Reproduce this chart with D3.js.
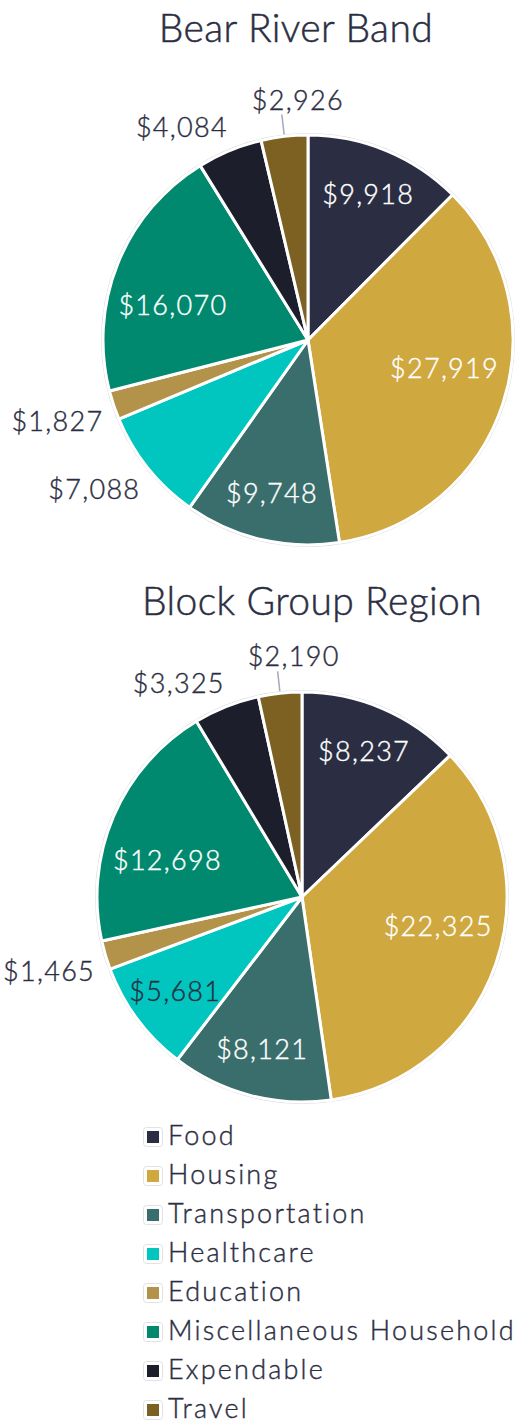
<!DOCTYPE html>
<html>
<head>
<meta charset="utf-8">
<script src="https://cdn.jsdelivr.net/npm/d3@7"></script>
<style>
  body { margin: 0; background: #fff; }
  svg { display: block; }
</style>
</head>
<body>
<script>
let w = 516;
let h = 1422;

let categories = ["Food", "Housing", "Transportation", "Healthcare", "Education",
  "Miscellaneous Household", "Expendable", "Travel"];
let colors = ["#2b2e42", "#cfa840", "#3a6e6c", "#00c6bf", "#b39349", "#00896e", "#1c1f2b", "#7d6122"];

let titles = ["Bear River Band", "Block Group Region"];
let bearRiver = [9918, 27919, 9748, 7088, 1827, 16070, 4084, 2926];
let blockGroup = [8237, 22325, 8121, 5681, 1465, 12698, 3325, 2190];

// slices whose value label sits outside the pie
let outsideBear = ["Healthcare", "Education", "Expendable", "Travel"];
let outsideBlock = ["Education", "Expendable", "Travel"];
// light slices get dark inside labels
let darkText = ["Healthcare"];

let font = "Lato, 'Open Sans', sans-serif";
let ink = "#2b2e42";
let fmt = d3.format("$,");

let color = d3.scaleOrdinal().domain(categories).range(colors);

let svg = d3.select("body")
  .append("svg")
  .attr("width", w)
  .attr("height", h)
  .attr("font-family", font)
  .attr("font-weight", 300);

let charts = [
  { title: titles[0], values: bearRiver, outside: outsideBear, cx: 308, cy: 340, tx: 296, ty: 42 },
  { title: titles[1], values: blockGroup, outside: outsideBlock, cx: 302, cy: 897, tx: 312, ty: 615 }
];

let r = 205;
let fs = 27;

let pie = d3.pie().sort(null).value(d => d.value);
let arc = d3.arc().innerRadius(0).outerRadius(r);

// thicken Lato Light a touch
function weigh(sel, col, wd) {
  sel.attr("fill", col)
    .attr("stroke", col)
    .attr("stroke-width", wd)
    .attr("paint-order", "stroke");
}

charts.forEach(c => {
  let data = categories.map((k, i) => ({ key: k, value: c.values[i] }));

  svg.append("text")
    .attr("x", c.tx)
    .attr("y", c.ty)
    .attr("text-anchor", "middle")
    .attr("font-size", "39px")
    .attr("letter-spacing", "0.4px")
    .call(weigh, ink, 0.5)
    .text(c.title);

  let g = svg.append("g")
    .attr("transform", "translate(" + c.cx + "," + c.cy + ")");

  // faint outer ring
  g.append("circle")
    .attr("r", r + 1.5)
    .attr("fill", "none")
    .attr("stroke", "#d4d4d8")
    .attr("stroke-width", 1);

  let arcs = pie(data);

  g.selectAll("path")
    .data(arcs)
    .enter()
    .append("path")
    .attr("d", arc)
    .attr("fill", d => color(d.data.key))
    .attr("stroke", "#fff")
    .attr("stroke-width", 3)
    .attr("stroke-linejoin", "round");

  arcs.forEach(d => {
    let a = (d.startAngle + d.endAngle) / 2;
    let span = d.endAngle - d.startAngle;
    let sin = Math.sin(a), cos = Math.cos(a);
    let label = fmt(d.value);

    if (c.outside.indexOf(d.data.key) < 0) {
      let deg = span * 180 / Math.PI;
      let f = deg > 60 ? 0.68 : 0.77;
      // big slices: pull label toward the horizontal a little
      let aa = deg > 60 ? a + (Math.PI / 2 - a % Math.PI) * 0.35 : a;
      let col = darkText.indexOf(d.data.key) < 0 ? "#fff" : ink;
      g.append("text")
        .attr("x", r * f * Math.sin(aa))
        .attr("y", -r * f * Math.cos(aa))
        .attr("dy", "0.35em")
        .attr("text-anchor", "middle")
        .attr("font-size", fs + "px")
        .attr("letter-spacing", "1.3px")
        .call(weigh, col, 0.4)
        .text(label);
      return;
    }

    let R = r + 15;
    let x = R * sin, y = -R * cos;
    let t = g.append("text")
      .attr("font-size", fs + "px")
      .attr("letter-spacing", "1.3px")
      .call(weigh, ink, 0.4)
      .text(label);

    if (Math.abs(sin) < 0.25 && cos > 0) {
      // top: leader line and centered label
      g.append("line")
        .attr("x1", (r + 2) * sin)
        .attr("y1", -(r + 2) * cos)
        .attr("x2", (r + 22) * sin)
        .attr("y2", -(r + 22) * cos)
        .attr("stroke", "#a4a8bb")
        .attr("stroke-width", 1.5);
      t.attr("x", (r + 22) * sin + 16)
        .attr("y", -(r + 22) * cos - 5)
        .attr("text-anchor", "middle");
    } else {
      t.attr("x", x + (sin < 0 ? 4 : -4))
        .attr("y", cos < 0 ? y + fs * 0.72 + 2 : y)
        .attr("text-anchor", sin < 0 ? "end" : "start");
    }
  });
});

// Legend
let legend = svg.append("g")
  .attr("transform", "translate(143,1127)");

let rows = legend.selectAll("g")
  .data(categories)
  .enter()
  .append("g")
  .attr("transform", (d, i) => "translate(0," + (i * 39) + ")");

rows.append("rect")
  .attr("x", 0.5)
  .attr("y", 0.5)
  .attr("width", 19)
  .attr("height", 19)
  .attr("rx", 3)
  .attr("fill", "#fff")
  .attr("stroke", "#e2e2e6");

rows.append("rect")
  .attr("x", 4)
  .attr("y", 4)
  .attr("width", 12)
  .attr("height", 12)
  .attr("fill", d => color(d));

rows.append("text")
  .attr("x", 25)
  .attr("y", 18)
  .attr("font-size", "27px")
  .attr("letter-spacing", "2.2px")
  .call(weigh, ink, 0.4)
  .text(d => d);
</script>
</body>
</html>
